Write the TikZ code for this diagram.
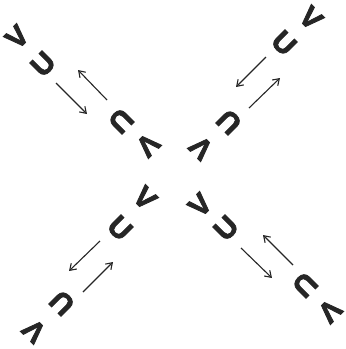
\documentclass[tikz,border=0pt]{standalone}
\usepackage{fontspec}
\setmainfont{Liberation Sans}
\newfontfamily\glyphfont{Liberation Sans}[FakeBold=3]
\usetikzlibrary{arrows.meta}
\begin{document}
\begin{tikzpicture}[x=1pt,y=-1pt,
  glyph/.style={font=\glyphfont\bfseries\fontsize{29}{29}\selectfont, text=black!85, inner sep=0pt},
  arr/.style={-{Straight Barb[length=6pt,width=8pt]}, line width=1.1pt, draw=black!85}]
\useasboundingbox (0,0) rectangle (346,349);
% top-left arm
\node[glyph, rotate=45] (tlV1) at (17,37) {V};
\node[glyph, rotate=45] (tlU1) at (43,64) {U};
\node[glyph, rotate=225] (tlU2) at (121,121) {U};
\node[glyph, rotate=225] (tlV2) at (148,145) {V};
\coordinate (tla) at (56,83); \coordinate (tlb) at (87,114);
\coordinate (tlc) at (107,100); \coordinate (tld) at (78,70);
\draw[arr] (tla) -- (tlb);
\draw[arr] (tlc) -- (tld);
% top-right arm
\node[glyph, rotate=-45] (trV1) at (311,18) {V};
\node[glyph, rotate=-45] (trU1) at (284,43) {U};
\node[glyph, rotate=135] (trU2) at (229,122) {U};
\node[glyph, rotate=135] (trV2) at (201,148) {V};
\coordinate (tra) at (266,57); \coordinate (trb) at (236,87);
\coordinate (trc) at (249,108); \coordinate (trd) at (280,78);
\draw[arr] (tra) -- (trb);
\draw[arr] (trc) -- (trd);
% bottom-left arm
\node[glyph, rotate=135] (blV1) at (34,331) {V};
\node[glyph, rotate=135] (blU1) at (62,303) {U};
\node[glyph, rotate=-45] (blU2) at (120,228) {U};
\node[glyph, rotate=-45] (blV2) at (145,198) {V};
\coordinate (bla) at (100,241); \coordinate (blb) at (69,271);
\coordinate (blc) at (83,292); \coordinate (bld) at (113,262);
\draw[arr] (bla) -- (blb);
\draw[arr] (blc) -- (bld);
% bottom-right arm
\node[glyph, rotate=45] (brV2) at (200,205) {V};
\node[glyph, rotate=45] (brU2) at (226,228) {U};
\node[glyph, rotate=225] (brU1) at (305,285) {U};
\node[glyph, rotate=225] (brV1) at (330,311) {V};
\coordinate (bra) at (241,248); \coordinate (brb) at (272,278);
\coordinate (brc) at (293,265); \coordinate (brd) at (263,235);
\draw[arr] (bra) -- (brb);
\draw[arr] (brc) -- (brd);
\end{tikzpicture}
\end{document}
